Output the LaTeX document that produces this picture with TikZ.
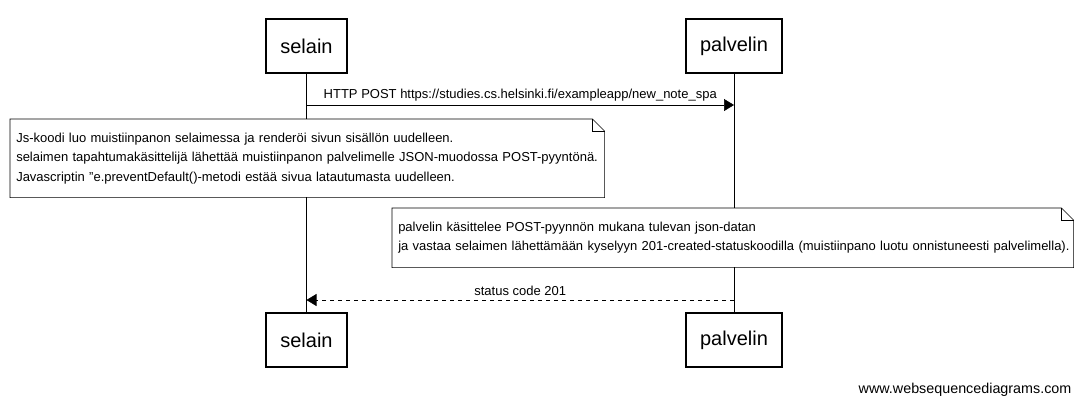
\documentclass[tikz,border=0pt]{standalone}
\usepackage{fontspec}
\setmainfont{Liberation Sans}
\usetikzlibrary{arrows.meta,positioning}
\tikzset{%
	actor/.style = {
		rectangle, draw=black, thick,
		minimum height=40.5pt,
		font=\fontsize{15}{18}\selectfont
	},
	note/.style = {
		rectangle, fill=white, inner xsep=4.5pt, inner ysep=0pt,
		align=left, anchor=north west,
		font=\fontsize{9.75}{14.6}\selectfont
	},
	msg/.style = {
		-{Triangle[length=7.5pt,width=9pt]}
	},
	lbl/.style = {
		font=\fontsize{9.75}{11}\selectfont, inner sep=1pt
	}
}
\newcommand{\notebox}[1]{%
	\draw (#1.north west) -- ([xshift=-9pt]#1.north east) -- ([yshift=-9pt]#1.north east) -- (#1.south east) -- (#1.south west) -- cycle;
	\draw ([xshift=-9pt]#1.north east) |- ([yshift=-9pt]#1.north east);
}

\begin{document}
\begin{tikzpicture}[x=0.75pt, y=-0.75pt]
    \useasboundingbox (0,0) rectangle (1083,405);
    % participants
    \node (selainTop)     [actor, minimum width=60.75pt] at (306.5,46)  {selain};
    \node (palvelinTop)   [actor, minimum width=72pt]    at (734,46)    {palvelin};
    \node (selainBot)     [actor, minimum width=60.75pt] at (306.5,340) {selain};
    \node (palvelinBot)   [actor, minimum width=72pt]    at (734,340)   {palvelin};

    % lifelines
    \draw (selainTop) -- (selainBot);
    \draw (palvelinTop) -- (palvelinBot);

    % messages
    \coordinate (postFrom) at (306.5,105);
    \coordinate (postTo)   at (734,105);
    \draw[msg] (postFrom) -- node[lbl, above=2pt] {HTTP POST https://studies.cs.helsinki.fi/exampleapp/new\_note\_spa} (postTo);

    % notes
    \node (noteJs) [note, minimum width=445.5pt, minimum height=58.5pt, text width=436.5pt] at (10,119)
        {Js-koodi luo muistiinpanon selaimessa ja renderöi sivun sisällön uudelleen.\\
         selaimen tapahtumakäsittelijä lähettää muistiinpanon palvelimelle JSON-muodossa POST-pyyntönä.\\
         Javascriptin "e.preventDefault()-metodi estää sivua latautumasta uudelleen.};
    \notebox{noteJs}

    \node (noteServer) [note, minimum width=510.75pt, minimum height=44.25pt, text width=501.75pt] at (392,208)
        {\mbox{palvelin käsittelee POST-pyynnön mukana tulevan json-datan}\\
         \mbox{ja vastaa selaimen lähettämään kyselyyn 201-created-statuskoodilla (muistiinpano luotu onnistuneesti palvelimella).}};
    \notebox{noteServer}

    \coordinate (respFrom) at (734,300);
    \coordinate (respTo)   at (306.5,300);
    \draw[msg, dashed] (respFrom) -- node[lbl, above=2pt] {status code 201} (respTo);

    \node (watermark) [lbl, anchor=east, font=\fontsize{10.75}{12}\selectfont] at (1073,390) {www.websequencediagrams.com};
\end{tikzpicture}
\end{document}
